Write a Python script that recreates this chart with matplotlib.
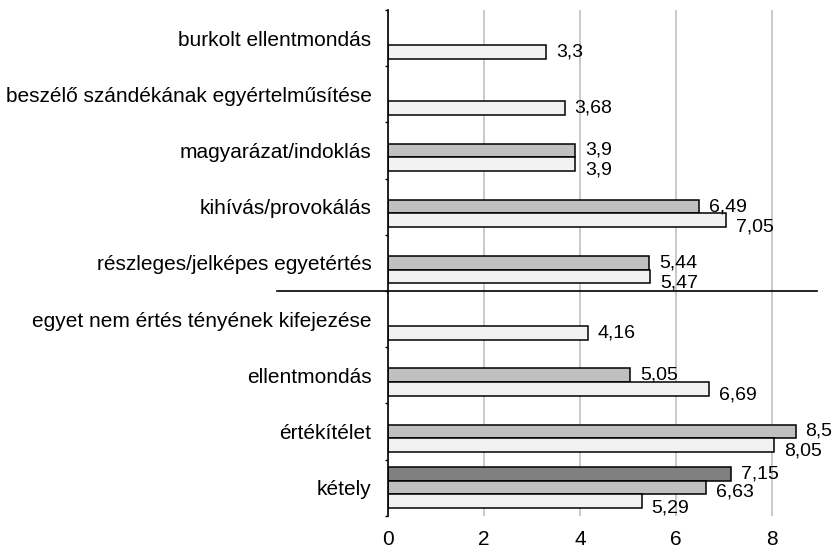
import matplotlib
matplotlib.use("Agg")
import matplotlib.pyplot as plt
import numpy as np

# categories, top to bottom
categories = [
    "burkolt ellentmondás",
    "beszélő szándékának egyértelműsítése",
    "magyarázat/indoklás",
    "kihívás/provokálás",
    "részleges/jelképes egyetértés",
    "egyet nem értés tényének kifejezése",
    "ellentmondás",
    "értékítélet",
    "kétely",
]
dark_vals = [None, None, None, None, None, None, None, None, 7.15]
mid_vals = [None, None, 3.9, 6.49, 5.44, None, 5.05, 8.5, 6.63]
light_vals = [3.3, 3.68, 3.9, 7.05, 5.47, 4.16, 6.69, 8.05, 5.29]
x_ticks = [0, 2, 4, 6, 8]

plt.rcParams['font.family'] = ['Liberation Sans', 'DejaVu Sans']

fig = plt.figure(figsize=(8.4, 5.51), dpi=100)
ax = fig.add_axes([0.462, 0.064, 0.514, 0.918])

y = np.arange(len(categories))
h = 0.244
series = [(dark_vals, "#808080", -1), (mid_vals, "#c0c0c0", 0), (light_vals, "#f2f2f2", 1)]

for vals, col, slot in series:
    for i, v in enumerate(vals):
        if v is None:
            continue
        ax.barh(y[i] + slot * h, v, height=h, color=col, edgecolor="black",
                linewidth=1.1, zorder=3)
        n_bars = sum(1 for s in series if s[0][i] is not None)
        # nudge labels apart a little, like the original
        dy = 0
        if n_bars > 1 and slot == 1:
            dy = -4.5
        elif n_bars == 3 and slot == 0:
            dy = -3
        ax.annotate(str(v).replace(".", ","), (v, y[i] + slot * h),
                    xytext=(7, dy), textcoords="offset points",
                    va="center", ha="left", fontsize=14, zorder=4)

ax.set_xlim(0, 9)
ax.set_ylim(len(categories) - 0.5, -0.5)
ax.set_xticks(x_ticks)
ax.set_xticklabels([str(t) for t in x_ticks], fontsize=15)
ax.set_yticks(y)
ax.set_yticklabels(categories, fontsize=15)
ax.set_yticks(np.arange(-0.5, len(categories), 1), minor=True)
ax.tick_params(axis="y", which="major", length=0, pad=12)
ax.tick_params(axis="y", which="minor", length=2, width=1, direction="out")
ax.tick_params(axis="x", length=0, pad=10)

ax.grid(axis="x", color="#c0c0c0", linewidth=1.2, zorder=0)
ax.set_axisbelow(True)
for s in ["top", "right", "bottom"]:
    ax.spines[s].set_visible(False)
ax.spines["left"].set_linewidth(1.2)
ax.spines["left"].set_zorder(5)

# separator line between the two groups
ax.plot([-0.257, 0.993], [4.5, 4.5], color="black", linewidth=1.2,
        transform=ax.get_yaxis_transform(), clip_on=False, zorder=5)

fig.savefig("out.png", dpi=100)
